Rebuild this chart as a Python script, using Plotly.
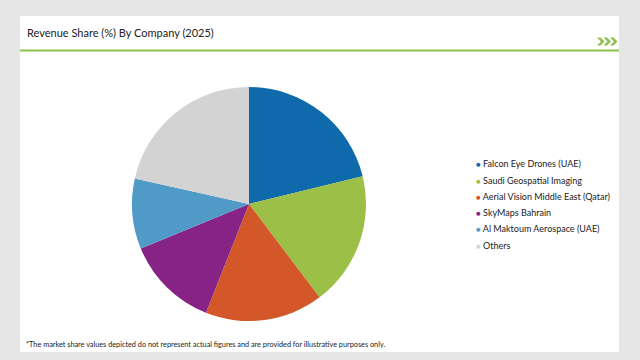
import plotly.graph_objects as go

companies = [
    "Falcon Eye Drones (UAE)",
    "Saudi Geospatial Imaging",
    "Aerial Vision Middle East (Qatar)",
    "SkyMaps Bahrain",
    "Al Maktoum Aerospace (UAE)",
    "Others",
]
shares = [21.2, 18.5, 16.3, 12.8, 9.7, 21.5]
colors = ["#0e6aab", "#9bbf47", "#d4572a", "#862385", "#4f9ac6", "#d3d3d3"]

title_text = "Revenue Share (%) By Company (2025)"
footnote = "*The market share values depicted do not represent actual figures and are provided for illustrative purposes only."

W, H = 640, 360
FONT = "Lato"


def px(x):
    return x / W


def py(y):
    return 1 - y / H


fig = go.Figure()

cx, cy, r = 249, 204, 117
fig.add_trace(go.Pie(
    labels=companies,
    values=shares,
    sort=False,
    direction="clockwise",
    rotation=0,
    marker=dict(colors=colors, line=dict(width=0)),
    textinfo="none",
    showlegend=False,
    domain=dict(x=[px(cx - r), px(cx + r)], y=[py(cy + r), py(cy - r)]),
))

shapes = [
    # white card
    dict(type="rect", xref="paper", yref="paper", x0=px(20), x1=px(619), y0=py(352), y1=py(16),
         fillcolor="white", line=dict(width=0), layer="below"),
    # green rule under header
    dict(type="rect", xref="paper", yref="paper", x0=px(20), x1=px(619), y0=py(51.5), y1=py(49.5),
         fillcolor="#8cc04b", line=dict(width=0), layer="below"),
]
# chevrons icon
for i in range(3):
    x0 = 597 + i * 6.5
    pts = [(x0, 37.5), (x0 + 3.5, 37.5), (x0 + 7.5, 41.5), (x0 + 3.5, 45.5), (x0, 45.5), (x0 + 4, 41.5)]
    path = "M " + " L ".join(f"{px(a)},{py(b)}" for a, b in pts) + " Z"
    shapes.append(dict(type="path", xref="paper", yref="paper", path=path,
                       fillcolor="#8cc04b", line=dict(width=0)))

annotations = [
    dict(text=title_text, x=px(25), y=py(32), xref="paper", yref="paper", xanchor="left", yanchor="middle",
         showarrow=False, font=dict(family=FONT, size=11, color="#222222")),
    dict(text=footnote, x=px(24), y=py(344), xref="paper", yref="paper", xanchor="left", yanchor="middle",
         showarrow=False, font=dict(family=FONT, size=7.3, color="#222222")),
]
ly0, ldy = 164, 16.2
for i, (name, c) in enumerate(zip(companies, colors)):
    annotations.append(dict(
        text=f"<span style='color:{c};font-size:8px'>●</span> {name}",
        x=px(474), y=py(ly0 + i * ldy), xref="paper", yref="paper", xanchor="left", yanchor="middle",
        showarrow=False, font=dict(family=FONT, size=9, color="#222222"),
    ))

fig.update_layout(
    width=W, height=H,
    margin=dict(l=0, r=0, t=0, b=0),
    paper_bgcolor="#e6e6e6",
    plot_bgcolor="#e6e6e6",
    shapes=shapes,
    annotations=annotations,
    showlegend=False,
)

fig.write_html("out.html", config={"displayModeBar": False},
               post_script="document.body.style.margin='0';document.body.style.background='#e6e6e6';")
